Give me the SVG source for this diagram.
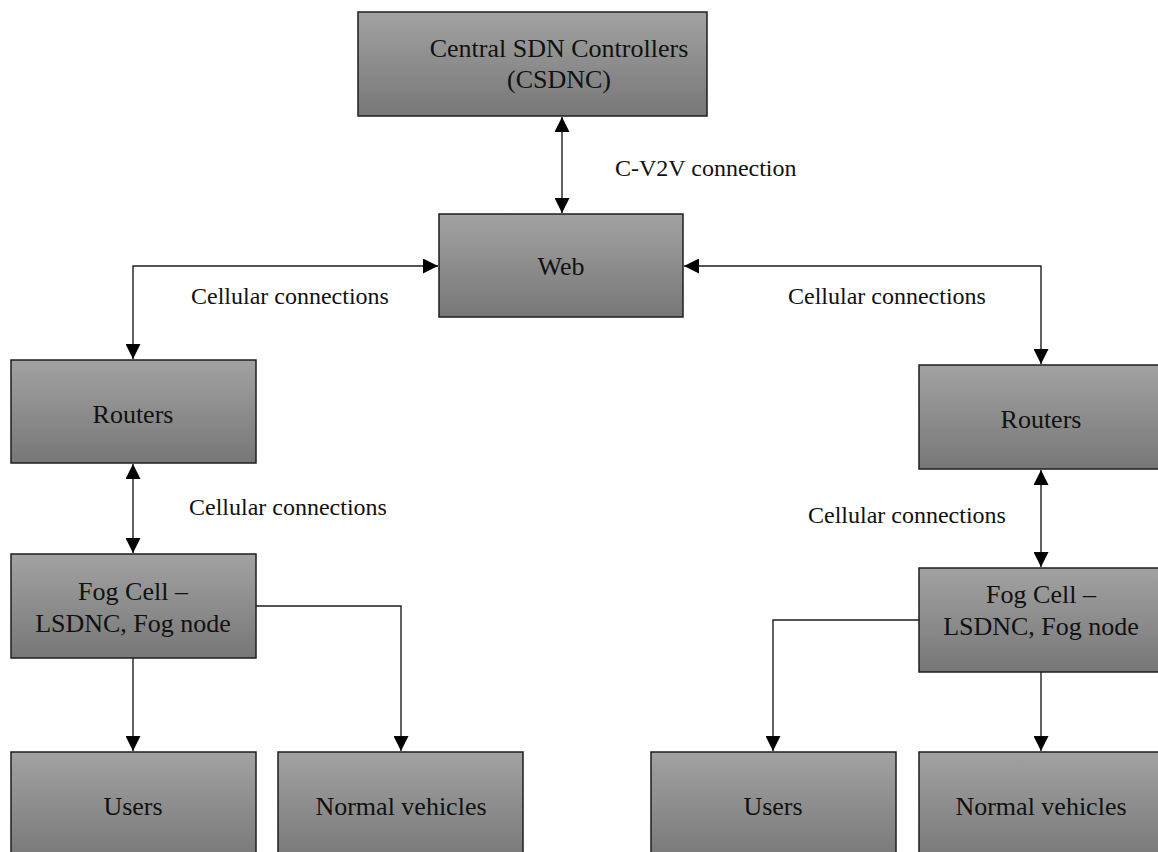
<svg xmlns="http://www.w3.org/2000/svg" width="1158" height="852" viewBox="0 0 1158 852">
<style>
  .box { fill: url(#g); stroke: #1e1e1e; stroke-width: 1.5; }
  .nt { font-family: "Liberation Serif", "Times New Roman", serif; font-size: 26px; fill: #111; text-anchor: middle; }
  .lb { font-family: "Liberation Serif", "Times New Roman", serif; font-size: 24px; fill: #111; }
  .ln { fill: none; stroke: #1e1e1e; stroke-width: 1.4; }
</style>
<defs>
  <linearGradient id="g" x1="0" y1="0" x2="0" y2="1">
    <stop offset="0" stop-color="#a2a2a2"/>
    <stop offset="1" stop-color="#777777"/>
  </linearGradient>
  <marker id="ah" markerUnits="userSpaceOnUse" markerWidth="15" markerHeight="15" refX="15" refY="7.5" orient="auto-start-reverse" viewBox="0 0 15 15">
    <path d="M0,0 L15,7.5 L0,15 z" fill="#000"/>
  </marker>
</defs>
<rect width="1158" height="852" fill="#fff"/>
<g id="connectors">
  <line class="ln" x1="562" y1="117" x2="562" y2="213" marker-start="url(#ah)" marker-end="url(#ah)"/>
  <polyline class="ln" points="438,266 133,266 133,359" marker-start="url(#ah)" marker-end="url(#ah)"/>
  <polyline class="ln" points="684,266 1041,266 1041,364" marker-start="url(#ah)" marker-end="url(#ah)"/>
  <line class="ln" x1="133" y1="464" x2="133" y2="553" marker-start="url(#ah)" marker-end="url(#ah)"/>
  <line class="ln" x1="1041" y1="470" x2="1041" y2="567" marker-start="url(#ah)" marker-end="url(#ah)"/>
  <line class="ln" x1="133" y1="658" x2="133" y2="751" marker-end="url(#ah)"/>
  <polyline class="ln" points="256,606 401,606 401,751" marker-end="url(#ah)"/>
  <polyline class="ln" points="919,620 773,620 773,751" marker-end="url(#ah)"/>
  <line class="ln" x1="1041" y1="672" x2="1041" y2="751" marker-end="url(#ah)"/>
  <text class="lb" x="615" y="176">C-V2V connection</text>
  <text class="lb" x="191" y="304">Cellular connections</text>
  <text class="lb" x="788" y="304">Cellular connections</text>
  <text class="lb" x="189" y="515">Cellular connections</text>
  <text class="lb" x="808" y="523">Cellular connections</text>
</g>
<g id="csdnc">
  <rect class="box" x="358" y="12" width="349" height="104"/>
  <text class="nt" x="559" y="57">Central SDN Controllers</text>
  <text class="nt" x="559" y="88">(CSDNC)</text>
</g>
<g id="web">
  <rect class="box" x="439" y="214" width="244" height="103"/>
  <text class="nt" x="561" y="275">Web</text>
</g>
<g id="routers-left">
  <rect class="box" x="11" y="360" width="245" height="103"/>
  <text class="nt" x="133" y="423">Routers</text>
</g>
<g id="routers-right">
  <rect class="box" x="919" y="365" width="245" height="104"/>
  <text class="nt" x="1041" y="428">Routers</text>
</g>
<g id="fog-left">
  <rect class="box" x="11" y="554" width="245" height="104"/>
  <text class="nt" x="133" y="600">Fog Cell –</text>
  <text class="nt" x="133" y="632">LSDNC, Fog node</text>
</g>
<g id="fog-right">
  <rect class="box" x="919" y="568" width="245" height="104"/>
  <text class="nt" x="1041" y="603">Fog Cell –</text>
  <text class="nt" x="1041" y="635">LSDNC, Fog node</text>
</g>
<g id="users-left">
  <rect class="box" x="11" y="752" width="245" height="110"/>
  <text class="nt" x="133" y="815">Users</text>
</g>
<g id="vehicles-left">
  <rect class="box" x="278" y="752" width="245" height="110"/>
  <text class="nt" x="401" y="815">Normal vehicles</text>
</g>
<g id="users-right">
  <rect class="box" x="651" y="752" width="245" height="110"/>
  <text class="nt" x="773" y="815">Users</text>
</g>
<g id="vehicles-right">
  <rect class="box" x="919" y="752" width="245" height="110"/>
  <text class="nt" x="1041" y="815">Normal vehicles</text>
</g>
</svg>
